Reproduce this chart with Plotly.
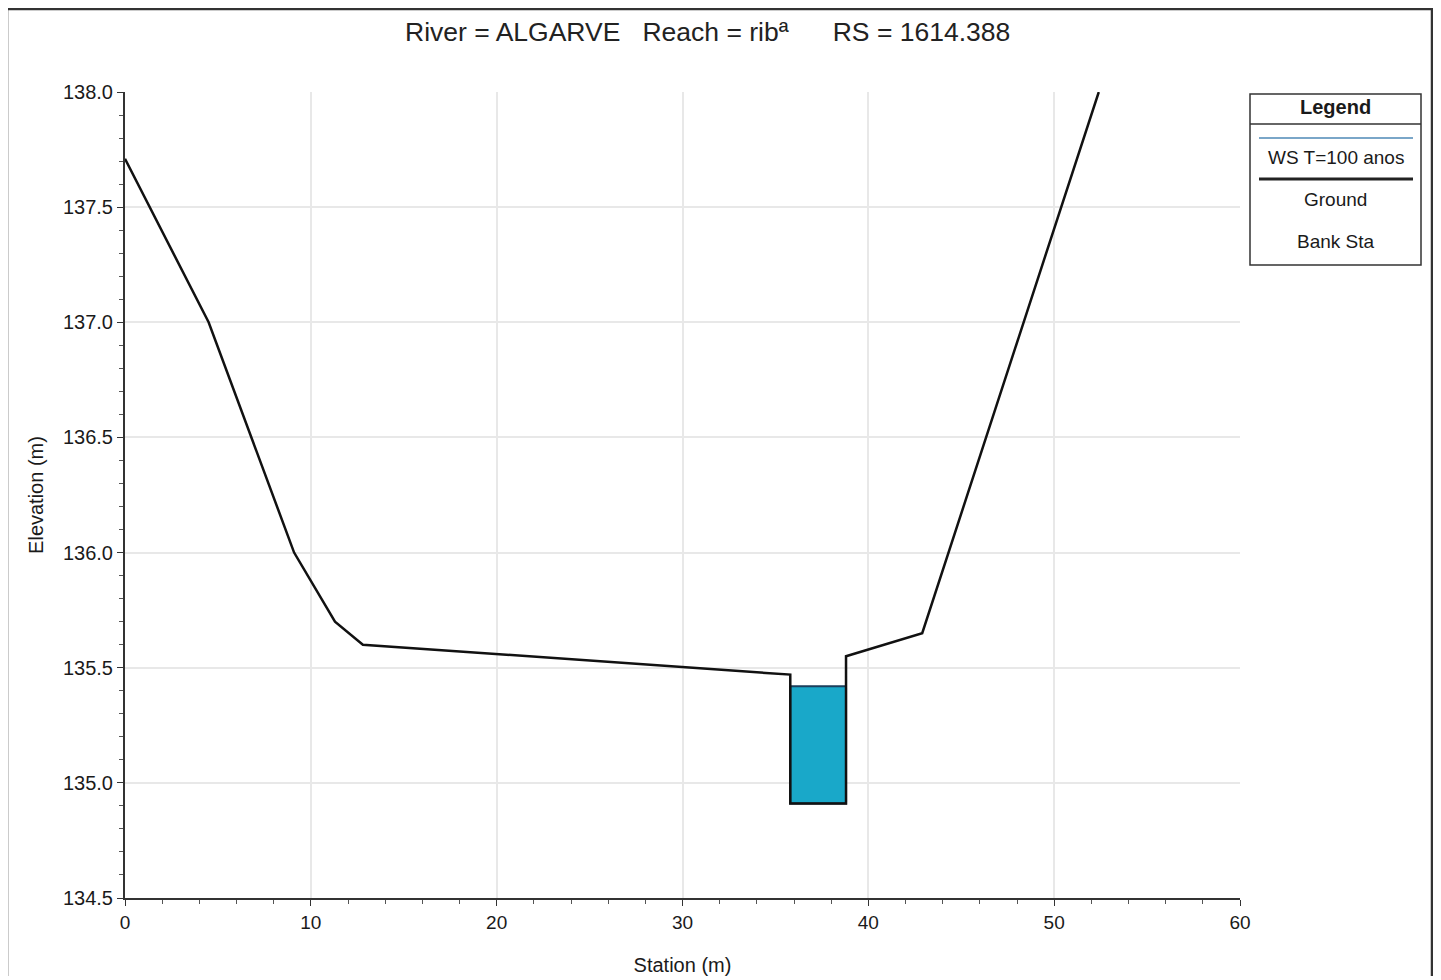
import plotly.graph_objects as go

# Cross-section data (station m, elevation m)
ground_x = [0.0, 4.5, 9.1, 11.3, 12.8, 35.8, 35.8, 38.8, 38.8, 42.9, 52.4]
ground_y = [137.71, 137.0, 136.0, 135.70, 135.60, 135.47, 134.91, 134.91, 135.55, 135.65, 138.0]

ws_level = 135.42
ws_left, ws_right = 35.8, 38.8
bed = 134.91

legend_items = ["WS T=100 anos", "Ground", "Bank Sta"]

FONT = "Liberation Sans, Arial, sans-serif"

fig = go.Figure()

# water surface fill
fig.add_trace(go.Scatter(
    x=[ws_left, ws_left, ws_right, ws_right, ws_left],
    y=[ws_level, bed, bed, ws_level, ws_level],
    fill="toself", fillcolor="#19a8c9", mode="lines",
    line=dict(color="#1b3f5c", width=2),
    name=legend_items[0], showlegend=False, hoverinfo="skip"))

fig.add_trace(go.Scatter(
    x=ground_x, y=ground_y, mode="lines",
    line=dict(color="#111111", width=2.5),
    name=legend_items[1], showlegend=False))

# page has 8px body margin -> figure is drawn 8px in from window edge
W, H = 1425, 968
ML, MR, MT, MB = 117, 193, 84, 78
fig.update_layout(
    width=W, height=H,
    margin=dict(l=ML, r=MR, t=MT, b=MB),
    paper_bgcolor="white", plot_bgcolor="white",
    font=dict(family=FONT, color="#1a1a1a"),
    title=dict(text="River = ALGARVE   Reach = rib\u00aa      RS = 1614.388",
               x=0.491, xanchor="center", y=1 - 24 / H, yanchor="middle",
               font=dict(size=26.5, color="#222")),
)

fig.update_xaxes(
    range=[0, 60], dtick=10, tickformat="d", automargin=False,
    showgrid=True, gridcolor="#e8e8e8", gridwidth=1.5,
    showline=True, linecolor="#333", linewidth=2,
    ticks="outside", ticklen=6, tickcolor="#333",
    minor=dict(dtick=2, ticks="outside", ticklen=4, tickcolor="#555", showgrid=False),
    tickfont=dict(size=19), zeroline=False,
    title=dict(text="Station (m)", font=dict(size=20), standoff=28))

fig.update_yaxes(
    range=[134.5, 138.0], dtick=0.5, tickformat=".1f", automargin=False,
    showgrid=True, gridcolor="#e8e8e8", gridwidth=1.5,
    showline=True, linecolor="#333", linewidth=2,
    ticks="outside", ticklen=6, tickcolor="#333",
    minor=dict(dtick=0.1, ticks="outside", ticklen=4, tickcolor="#555", showgrid=False),
    tickfont=dict(size=20), zeroline=False,
    title=dict(text="Elevation (m)", font=dict(size=20), standoff=14))

# custom HEC-RAS style legend box, positioned in window pixels
pw, ph = W - ML - MR, H - MT - MB

def px(x):
    return (x - 8 - ML) / pw

def py(y):
    return 1 - (y - 8 - MT) / ph

shapes = [
    dict(type="rect", xref="paper", yref="paper", x0=px(1250), x1=px(1421), y0=py(265), y1=py(94),
         line=dict(color="#333", width=1.5), fillcolor="white"),
    dict(type="line", xref="paper", yref="paper", x0=px(1250), x1=px(1421), y0=py(124), y1=py(124),
         line=dict(color="#333", width=1.5)),
    dict(type="line", xref="paper", yref="paper", x0=px(1259), x1=px(1413), y0=py(138), y1=py(138),
         line=dict(color="#7aa6c8", width=2)),
    dict(type="line", xref="paper", yref="paper", x0=px(1259), x1=px(1413), y0=py(179), y1=py(179),
         line=dict(color="#222", width=3)),
    # outer frame (bottom edge is off-screen in the reference)
    dict(type="path", xref="paper", yref="paper",
         path="M {} {} L {} {} L {} {} L {} {}".format(px(7), py(990), px(7), py(9), px(1432), py(9), px(1432), py(990)),
         line=dict(color="#333", width=2.5)),
]
legend_y = [157, 199, 242]
annotations = [
    dict(text="<b>Legend</b>", x=px(1336), y=py(107), xref="paper", yref="paper",
         xanchor="center", yanchor="middle", showarrow=False, font=dict(size=20)),
]
for label, yy in zip(legend_items, legend_y):
    annotations.append(dict(text=label, x=px(1336), y=py(yy), xref="paper", yref="paper",
                            xanchor="center", yanchor="middle", showarrow=False, font=dict(size=19)))
fig.update_layout(shapes=shapes, annotations=annotations)

fig.write_html("out.html")
